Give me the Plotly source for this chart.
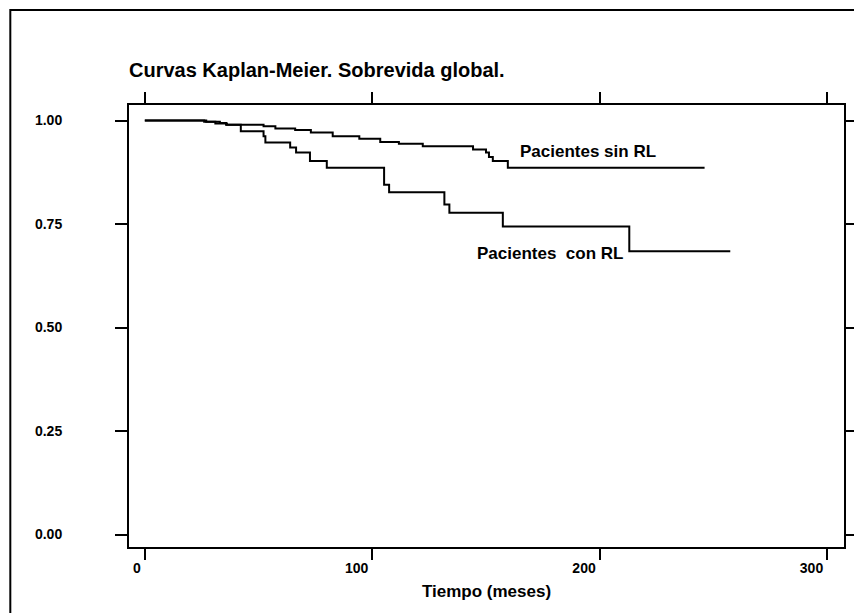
import plotly.graph_objects as go

# Kaplan-Meier step data (time in months, survival probability)
sin_rl_time = [0, 27, 33, 35.7, 52.2, 57.4, 66.1, 73, 82.6, 94.3, 103.5, 111.7, 122.2, 144.3, 150, 151.3, 153, 159.6, 246.1]
sin_rl_surv = [1.0, 0.997, 0.994, 0.990, 0.986, 0.981, 0.977, 0.971, 0.962, 0.956, 0.948, 0.944, 0.938, 0.930, 0.923, 0.912, 0.902, 0.886, 0.886]

con_rl_time = [0, 26.1, 31, 36.1, 42.2, 52.2, 53, 63.9, 66.5, 72.6, 80, 105.2, 107.4, 131.7, 133.9, 157.4, 213, 257.4]
con_rl_surv = [1.0, 0.997, 0.993, 0.990, 0.974, 0.962, 0.947, 0.935, 0.923, 0.902, 0.886, 0.845, 0.827, 0.797, 0.777, 0.744, 0.684, 0.684]

y_ticks = [0.0, 0.25, 0.50, 0.75, 1.00]
x_ticks = [0, 100, 200, 300]

FONT = "Liberation Sans, Arial, sans-serif"

fig = go.Figure()
fig.add_trace(go.Scatter(x=sin_rl_time, y=sin_rl_surv, mode="lines", line=dict(shape="hv", color="black", width=2),
                         name="Pacientes sin RL", showlegend=False, hoverinfo="skip"))
fig.add_trace(go.Scatter(x=con_rl_time, y=con_rl_surv, mode="lines", line=dict(shape="hv", color="black", width=2),
                         name="Pacientes con RL", showlegend=False, hoverinfo="skip"))

fig.add_annotation(x=194.8, y=0.924, text="Pacientes sin RL", showarrow=False,
                   font=dict(family=FONT, size=17, color="black", weight="bold"))
fig.add_annotation(x=178.2, y=0.680, text="Pacientes&nbsp; con RL", showarrow=False,
                   font=dict(family=FONT, size=17, color="black", weight="bold"))

# outer frame
fig.add_shape(type="rect", xref="paper", yref="paper", x0=-0.166, x1=1.2, y0=-0.5, y1=1.2149,
              line=dict(color="black", width=2), layer="below")

fig.update_layout(
    width=862, height=613,
    margin=dict(l=121, r=18, t=97, b=74),
    paper_bgcolor="white", plot_bgcolor="white",
    title=dict(text="Curvas Kaplan-Meier. Sobrevida global.", x=121/862, xanchor="left",
               y=1-61.5/613, yanchor="middle",
               font=dict(family=FONT, size=20, color="black", weight="bold")),
    font=dict(family=FONT, color="black"),
)

fig.update_xaxes(range=[-6.96, 307.4], tickvals=x_ticks, ticktext=[str(v) for v in x_ticks],
                 showgrid=False, zeroline=False, showline=True, linecolor="black", linewidth=2,
                 mirror="ticks", ticks="outside", ticklen=11, tickwidth=2, tickcolor="black",
                 ticklabelposition="outside left", ticklabelstandoff=7, ticklabelshift=-2,
                 tickfont=dict(family=FONT, size=14, color="black", weight="bold"),
                 title=dict(text="Tiempo (meses)", standoff=10,
                            font=dict(family=FONT, size=17, color="black", weight="bold")))
fig.update_yaxes(range=[-0.0302, 1.0375], tickvals=y_ticks, ticktext=["%.2f" % v for v in y_ticks],
                 showgrid=False, zeroline=False, showline=True, linecolor="black", linewidth=2,
                 mirror="ticks", ticks="outside", ticklen=12, tickwidth=2, tickcolor="black",
                 ticklabelstandoff=50,
                 tickfont=dict(family=FONT, size=14, color="black", weight="bold"))

fig.write_html("out.html")
